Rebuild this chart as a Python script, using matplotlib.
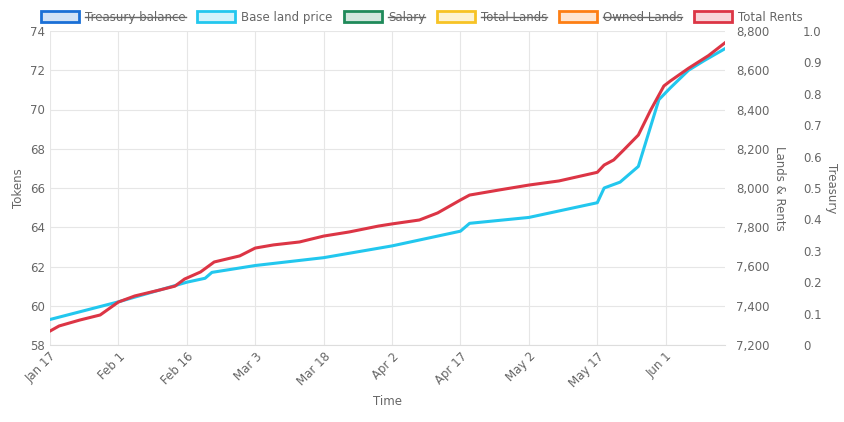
import numpy as np
import matplotlib.pyplot as plt
import matplotlib.dates as mdates
from matplotlib.patches import Patch
from datetime import datetime, timedelta

start = datetime(2024, 1, 17)

# base land price (Tokens) - day offset, value
base_days = [0, 15, 30, 34, 35.5, 45, 60, 75, 90, 92, 105, 120, 121.5, 125, 129, 133.5, 136, 140, 143.5, 148]
base_vals = [59.3, 60.2, 61.2, 61.4, 61.7, 62.05, 62.45, 63.05, 63.8, 64.2, 64.5, 65.25, 66.0, 66.3, 67.1, 70.5, 71.1, 72.0, 72.5, 73.1]

# total rents (Lands & Rents axis)
rent_days = [0, 2, 6.5, 11, 15, 18.6, 24, 27.4, 29.5, 33, 36, 41.6, 45, 49, 54.7, 60, 65.6, 72, 75, 81, 85, 90, 92,
             98.5, 105, 111.6, 120, 121.5, 123.6, 125.8, 129, 131.7, 134.6, 136, 140, 144.4, 148]
rent_vals = [7271, 7297, 7327, 7353, 7419, 7450, 7480, 7500, 7536, 7572, 7623, 7654, 7694, 7710, 7725, 7755, 7776,
             7806, 7817, 7837, 7873, 7939, 7964, 7990, 8015, 8036, 8080, 8117, 8143, 8194, 8270, 8397, 8520, 8545,
             8610, 8675, 8740]

tick_labels = ["Jan 17", "Feb 1", "Feb 16", "Mar 3", "Mar 18", "Apr 2", "Apr 17", "May 2", "May 17", "Jun 1"]

base_dates = [start + timedelta(days=d) for d in base_days]
rent_dates = [start + timedelta(days=d) for d in rent_days]
tick_dates = [start + timedelta(days=15 * i) for i in range(len(tick_labels))]

fig = plt.figure(figsize=(8.44, 4.22), dpi=100)
ax = fig.add_axes([50 / 844, 77 / 422, 675 / 844, 314 / 422])
ax2 = ax.twinx()
ax3 = ax.twinx()
tc = '#666666'
for a in (ax, ax2, ax3):
    for s in a.spines.values():
        s.set_visible(False)
    a.tick_params(colors=tc, labelsize=8.5, length=0)
ax.spines['bottom'].set_visible(True)
ax.spines['bottom'].set_color('#dddddd')

ax.plot(base_dates, base_vals, color='#22c7ee', lw=2.2)
ax2.plot(rent_dates, rent_vals, color='#dc3545', lw=2.2)

ax.set_ylim(58, 74)
ax.set_yticks(range(58, 75, 2))
ax2.set_ylim(7200, 8800)
ax2.set_yticks(range(7200, 8801, 200))
ax2.set_yticklabels([f"{v:,}" for v in range(7200, 8801, 200)])
ax2.tick_params(axis='y', pad=8)
ax3.set_ylim(0, 1)
ax3.set_yticks(np.arange(0, 1.01, 0.1))
ax3.set_yticklabels(["0"] + [f"{v:.1f}" for v in np.arange(0.1, 1.01, 0.1)])
ax3.spines['right'].set_position(('outward', 52))
ax3.tick_params(axis='y', pad=4)

ax.set_xlim(start, start + timedelta(days=148))
ax.set_xticks(tick_dates)
ax.set_xticklabels(tick_labels, rotation=45, ha='right', rotation_mode='anchor')
ax.grid(True, color='#e6e6e6', lw=0.8)
ax.set_axisbelow(True)

ax.set_ylabel('Tokens', color=tc, fontsize=8.5)
ax.set_xlabel('Time', color=tc, fontsize=8.5)
ax2.set_ylabel('Lands & Rents', color=tc, fontsize=8.5, rotation=270, labelpad=12)
ax3.set_ylabel('Treasury', color=tc, fontsize=8.5, rotation=270, labelpad=12)

names = ['Treasury balance', 'Base land price', 'Salary', 'Total Lands', 'Owned Lands', 'Total Rents']
colors = ['#1a6fd6', '#22c7ee', '#1f8a5a', '#f7c325', '#fd7e14', '#dc3545']
hidden = [True, False, True, True, True, False]
handles = [Patch(facecolor=c + '33', edgecolor=c, lw=2) for c in colors]
leg = fig.legend(handles, names, loc='upper center', bbox_to_anchor=(0.5, 1.0), ncol=6, frameon=False,
                 fontsize=8.5, handlelength=3.2, handleheight=1.0, columnspacing=1.0, handletextpad=0.5)
for t in leg.get_texts():
    t.set_color(tc)

fig.canvas.draw()
r = fig.canvas.get_renderer()
for t, h in zip(leg.get_texts(), hidden):
    if h:
        bb = t.get_window_extent(r).transformed(fig.transFigure.inverted())
        ym = (bb.y0 + bb.y1) / 2
        fig.add_artist(plt.Line2D([bb.x0, bb.x1], [ym, ym], color=tc, lw=1, transform=fig.transFigure))

fig.savefig('out.png', dpi=100)
